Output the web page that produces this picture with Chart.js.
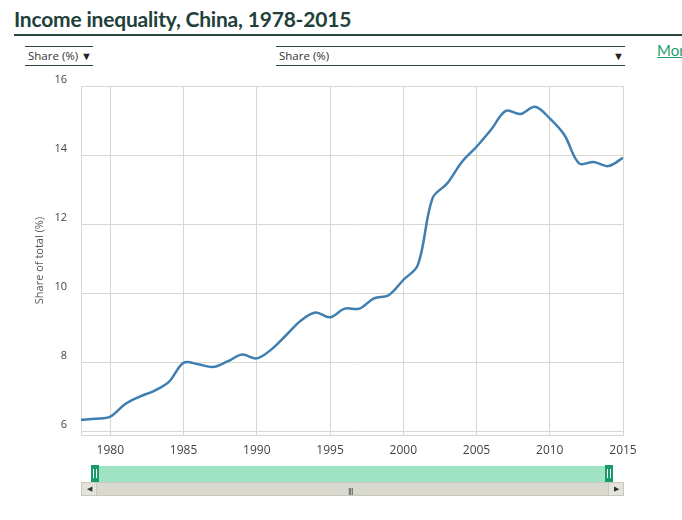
<!DOCTYPE html>
<html>
<head>
<meta charset="utf-8">
<script src="https://cdn.jsdelivr.net/npm/chart.js"></script>
<style>
  body { margin:0; width:682px; height:520px; position:relative; background:#fff; overflow:hidden; font-family:"Open Sans", sans-serif; }
  .title { position:absolute; left:14px; top:6px; font-family:Lato, sans-serif; font-weight:bold; font-size:21px; color:#22403a; letter-spacing:-0.2px; }
  .rule { position:absolute; left:14px; top:34px; width:668px; height:2px; background:#2b4540; }
  .dd { position:absolute; top:46px; height:18px; border-top:1px solid #2b4540; border-bottom:1px solid #2b4540; font-size:11.5px; color:#333; line-height:18px; }
  .dd span.arr { position:absolute; right:1px; top:0; font-size:11px; color:#222; }
  .more { position:absolute; left:657px; top:41px; font-family:Lato, sans-serif; font-size:15px; color:#1f9e6a; text-decoration:underline; white-space:nowrap; }
  #wrap { position:absolute; left:0; top:70px; width:682px; height:400px; }
  .nav { position:absolute; left:99px; top:466px; width:507px; height:16px; background:#9ee4c4; }
  .handle { position:absolute; top:465px; width:8px; height:17px; background:#1a9a68; }
  .handle:after { content:""; position:absolute; left:2px; top:4px; width:2px; height:9px; border-left:1px solid #fff; border-right:1px solid #fff; }
  .sbar { position:absolute; left:81px; top:482px; width:540px; height:12px; background:#d9d9d0; border:1px solid #c8c8c0; }
  .sbtn { position:absolute; top:482px; width:14px; height:12px; background:#e4e4dc; border:1px solid #c8c8c0; font-size:7px; color:#333; text-align:center; line-height:12px; }
  .grip { position:absolute; left:348px; top:485px; font-size:9px; color:#444; letter-spacing:-1px; }
</style>
</head>
<body>
<div class="title">Income inequality, China, 1978-2015</div>
<div class="rule"></div>
<div class="dd" style="left:25px;width:68px;"><span style="padding-left:3px">Share (%)</span><span class="arr">&#9660;</span></div>
<div class="dd" style="left:276px;width:349px;"><span style="padding-left:3px">Share (%)</span><span class="arr">&#9660;</span></div>
<div class="more">More</div>
<div id="wrap"><canvas id="c"></canvas></div>
<div class="nav"></div>
<div class="handle" style="left:91px"></div>
<div class="handle" style="left:605px"></div>
<div class="sbar"></div>
<div class="sbtn" style="left:81px">&#9664;</div>
<div class="sbtn" style="left:608px">&#9654;</div>
<div class="grip">III</div>
<script>
// data
var years = [1978,1979,1980,1981,1982,1983,1984,1985,1986,1987,1988,1989,1990,1991,1992,1993,1994,1995,1996,1997,
             1998,1999,2000,2001,2002,2003,2004,2005,2006,2007,2008,2009,2010,2011,2012,2013,2014,2015]
var share = [6.33,6.36,6.42,6.78,7.0,7.17,7.43,7.98,7.94,7.86,8.02,8.22,8.11,8.37,8.78,9.2,9.44,9.3,9.55,9.55,
             9.85,9.94,10.38,10.82,12.75,13.18,13.8,14.24,14.74,15.28,15.19,15.4,15.06,14.58,13.76,13.8,13.68,13.92]
var yTicks = [6,8,10,12,14,16]
var xTicks = [1980,1985,1990,1995,2000,2005,2010,2015]

var points = []
for (var i = 0; i < years.length; i++) {
    points.push({x: years[i], y: share[i]})
}

var ctx = document.getElementById('c').getContext('2d')
new Chart(ctx, {
    type: 'line',
    data: {
        datasets: [{
            data: points,
            borderColor: '#3f7eb0',
            borderWidth: 2.5,
            pointRadius: 0,
            tension: 0.35,
            fill: false
        }]
    },
    options: {
        responsive: true,
        maintainAspectRatio: false,
        animation: false,
        layout: {padding: {left: 0, right: 59, top: 16, bottom: 0}},
        plugins: {legend: {display: false}, tooltip: {enabled: false}},
        scales: {
            x: {
                type: 'linear',
                min: 1978,
                max: 2015,
                afterBuildTicks: function(scale) {
                    scale.ticks = xTicks.map(function(v) { return {value: v} })
                },
                afterFit: function(scale) {
                    scale.height = 35
                    scale.paddingLeft = 0
                    scale.paddingRight = 0
                },
                grid: {color: '#d9d8d0', drawTicks: false},
                border: {color: '#cfd3e0', width: 1},
                ticks: {
                    padding: 8,
                    color: '#444',
                    font: {family: 'Open Sans', size: 12},
                    maxRotation: 0,
                    callback: function(v) { return String(v) }
                }
            },
            y: {
                min: 5.89,
                max: 16,
                afterBuildTicks: function(scale) {
                    scale.ticks = yTicks.map(function(v) { return {value: v} })
                },
                afterFit: function(scale) {
                    scale.width = 81
                    scale.paddingTop = 0
                    scale.paddingBottom = 0
                },
                grid: {color: '#d9d8d0', drawTicks: false},
                border: {color: '#d9d8d0', width: 1},
                ticks: {
                    padding: 14,
                    labelOffset: -6,
                    color: '#444',
                    font: {family: 'Open Sans', size: 11}
                },
                title: {
                    display: true,
                    text: 'Share of total (%)',
                    color: '#555',
                    font: {family: 'Open Sans', size: 11},
                    padding: {top: 33, bottom: 0}
                }
            }
        }
    }
})
</script>
</body>
</html>
